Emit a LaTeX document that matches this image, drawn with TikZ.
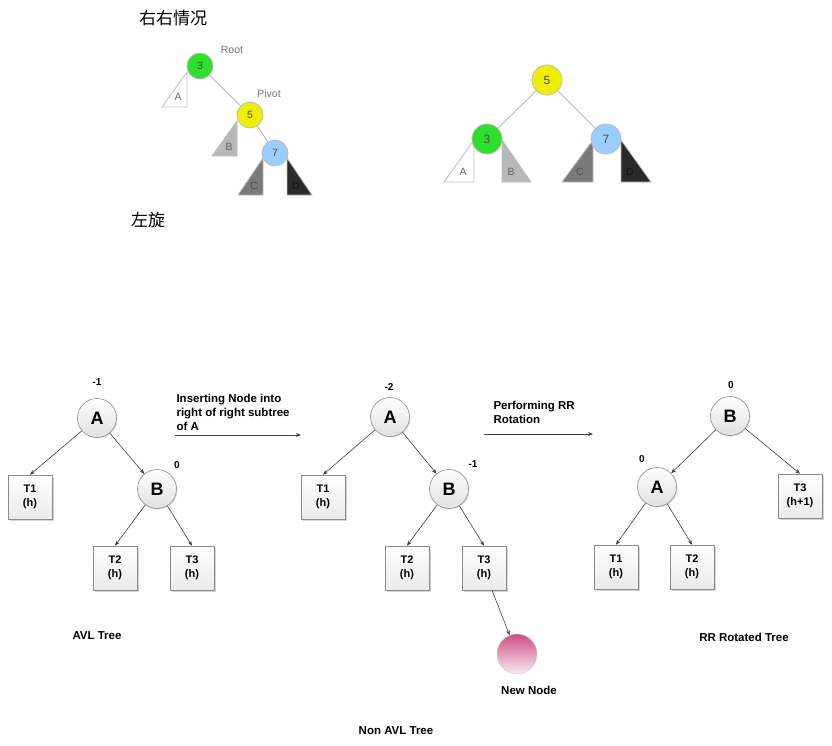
\documentclass[tikz,border=0pt]{standalone}
\usepackage{fontspec}
\setmainfont{Liberation Sans}
\newfontfamily\cjk{Noto Sans CJK SC}
\usetikzlibrary{arrows.meta,shadows}
\definecolor{tgreen}{HTML}{2EE02E}
\definecolor{tyellow}{HTML}{EEEE00}
\definecolor{tblue}{HTML}{99CCFF}
\definecolor{tlgray}{HTML}{B8B8B8}
\definecolor{tmgray}{HTML}{7A7A7A}
\definecolor{tdgray}{HTML}{2A2A2A}
\definecolor{tedge}{HTML}{BBBBBB}
\definecolor{tpink}{HTML}{CC4F86}
\begin{document}
\begin{tikzpicture}[x=1pt,y=-1pt,
  small/.style={circle,draw=tedge,line width=0.8pt,minimum size=26pt,inner sep=0pt,font=\fontsize{10.5}{10.5}\selectfont,text=black!70},
  big/.style={circle,draw=tedge,line width=0.8pt,minimum size=30pt,inner sep=0pt,font=\fontsize{12}{12}\selectfont,text=black!70},
  tlab/.style={font=\fontsize{10.5}{10.5}\selectfont,text=black!60},
  lab/.style={font=\fontsize{10.5}{10.5}\selectfont,text=black!55},
  cnode/.style={circle,draw=black!45,line width=0.6pt,minimum size=39pt,inner sep=0pt,top color=white,bottom color=black!12,drop shadow={opacity=0.25,shadow xshift=1pt,shadow yshift=-1pt},font=\bfseries\fontsize{18}{18}\selectfont},
  bnode/.style={rectangle,draw=black!45,line width=0.6pt,minimum width=44pt,minimum height=44pt,inner sep=0pt,top color=white,bottom color=black!8,drop shadow={opacity=0.35,shadow xshift=1.5pt,shadow yshift=-1.5pt},align=center,font=\bfseries\fontsize{11}{14}\selectfont},
  bal/.style={font=\bfseries\fontsize{10}{10}\selectfont},
  captext/.style={font=\bfseries\fontsize{11.5}{14}\selectfont,align=left},
  arr/.style={-{Stealth[length=5pt,width=4pt]},black!75,line width=0.6pt},
  ledge/.style={draw=tedge,line width=0.9pt}
]
\useasboundingbox (0,0) rectangle (832,745);
% ---- top left tree ----
\node[font=\cjk\fontsize{17}{17}\selectfont] (t1) at (173,18) {右右情况};
\node[font=\cjk\fontsize{17}{17}\selectfont] (t2) at (148,220) {左旋};
\fill[white,draw=tedge,line width=0.8pt] (187,72) -- (162,107) -- (187,107) -- cycle;
\node[tlab] (la) at (178,97) {A};
\fill[tlgray,draw=tedge,line width=0.8pt] (237,121) -- (212,156) -- (237,156) -- cycle;
\node[tlab] (lb) at (229,147) {B};
\fill[tmgray,draw=tedge,line width=0.8pt] (263,158) -- (238,195) -- (263,195) -- cycle;
\node[tlab,text=black!70] (lc) at (254,186) {C};
\fill[tdgray,draw=tedge,line width=0.8pt] (287,158) -- (287,195) -- (312,195) -- cycle;
\node[tlab,text=black!92] (ld) at (296,186) {D};
\node[small,fill=tgreen] (r3) at (200,66) {3};
\node[small,fill=tyellow] (r5) at (250,115) {5};
\node[small,fill=tblue] (r7) at (275,153) {7};
\draw[ledge] (r3) -- (r5);
\draw[ledge] (r5) -- (r7);
\node[lab] (root) at (232,50) {Root};
\node[lab] (pivot) at (269,94) {Pivot};
% ---- top right tree ----
\fill[white,draw=tedge,line width=0.8pt] (474,140) -- (444,182) -- (474,182) -- cycle;
\node[tlab] (ra) at (463,172) {A};
\fill[tlgray,draw=tedge,line width=0.8pt] (502,140) -- (502,182) -- (531,182) -- cycle;
\node[tlab] (rb) at (511,172) {B};
\fill[tmgray,draw=tedge,line width=0.8pt] (593,140) -- (562,182) -- (593,182) -- cycle;
\node[tlab,text=black!70] (rc) at (580,172) {C};
\fill[tdgray,draw=tedge,line width=0.8pt] (621,140) -- (621,182) -- (651,182) -- cycle;
\node[tlab,text=black!92] (rd) at (630,172) {D};
\node[big,fill=tyellow] (s5) at (547,80) {5};
\node[big,fill=tgreen] (s3) at (487,139) {3};
\node[big,fill=tblue] (s7) at (606,139) {7};
\draw[ledge] (s5) -- (s3);
\draw[ledge] (s5) -- (s7);
% ---- bottom tree 1 ----
\node[cnode] (a1) at (97,418) {A};
\node[bal] (a1b) at (97,382) {-1};
\node[bnode] (t11) at (30,497) {T1\\(h)};
\node[cnode] (b1) at (157,489) {B};
\node[bal] (b1b) at (177,465) {0};
\node[bnode] (t21) at (115,568) {T2\\(h)};
\node[bnode] (t31) at (192,568) {T3\\(h)};
\draw[arr] (a1) -- (t11.north);
\draw[arr] (a1) -- (b1);
\draw[arr] (b1) -- (t21.north);
\draw[arr] (b1) -- (t31.north);
\node[captext] (avl) at (97,636) {AVL Tree};
\node[captext,anchor=west] (ins) at (173,412) {Inserting Node into\\right of right subtree\\of A};
\coordinate (i1) at (175,435);
\coordinate (i2) at (301,435);
\draw[arr] (i1) -- (i2);
% ---- bottom tree 2 ----
\node[cnode] (a2) at (390,417) {A};
\node[bal] (a2b) at (389,387) {-2};
\node[bnode] (t12) at (323,497) {T1\\(h)};
\node[cnode] (b2) at (449,489) {B};
\node[bal] (b2b) at (473,464) {-1};
\node[bnode] (t22) at (407,568) {T2\\(h)};
\node[bnode] (t32) at (484,568) {T3\\(h)};
\node[circle,minimum size=40pt,inner sep=0pt,draw=black!20,line width=0.4pt,top color=tpink,bottom color=tpink!12] (nn) at (517,654) {};
\draw[arr] (a2) -- (t12.north);
\draw[arr] (a2) -- (b2);
\draw[arr] (b2) -- (t22.north);
\draw[arr] (b2) -- (t32.north);
\draw[arr] ([xshift=8pt]t32.south) -- (nn);
\node[captext] (nnl) at (529,690) {New Node};
\node[captext] (navl) at (396,731) {Non AVL Tree};
\node[captext,anchor=west] (perf) at (490,412) {Performing RR\\Rotation};
\coordinate (p1) at (484,434);
\coordinate (p2) at (593,434);
\draw[arr] (p1) -- (p2);
% ---- bottom tree 3 ----
\node[cnode] (b3) at (730,416) {B};
\node[bal] (b3b) at (731,385) {0};
\node[cnode] (a3) at (657,487) {A};
\node[bal] (a3b) at (642,459) {0};
\node[bnode] (t33) at (800,496) {T3\\(h+1)};
\node[bnode] (t13) at (616,567) {T1\\(h)};
\node[bnode] (t23) at (692,567) {T2\\(h)};
\draw[arr] (b3) -- (a3);
\draw[arr] (b3) -- (t33.north);
\draw[arr] (a3) -- (t13.north);
\draw[arr] (a3) -- (t23.north);
\node[captext] (rrt) at (744,637) {RR Rotated Tree};
\end{tikzpicture}
\end{document}
